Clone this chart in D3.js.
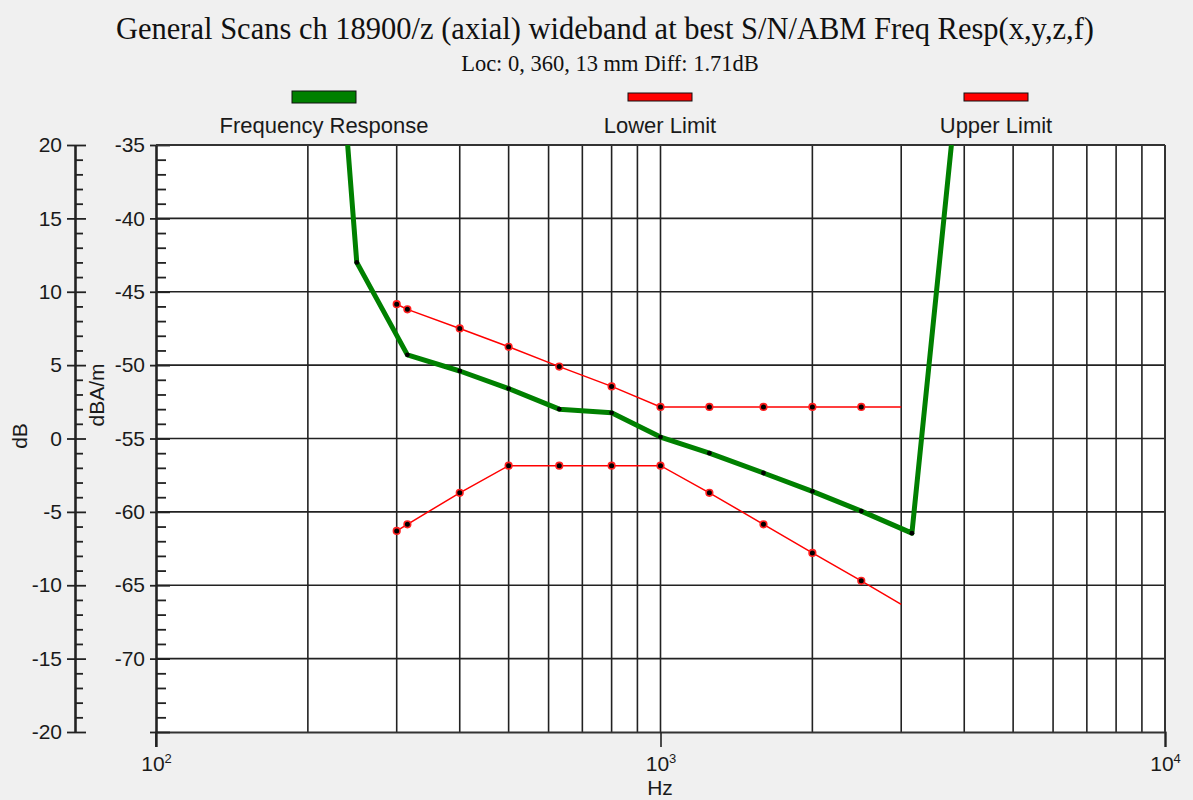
<!DOCTYPE html>
<html>
<head>
<meta charset="utf-8">
<script src="https://cdn.jsdelivr.net/npm/d3@7.9.0/dist/d3.min.js"></script>
<style>
  html, body { margin: 0; padding: 0; background: #f0f0f0; }
  svg { display: block; }
  .tick text { font-family: "Liberation Sans", Arial, sans-serif; font-size: 21px; fill: #1a1a1a; }
</style>
</head>
<body>
<svg id="chart" width="1193" height="800"></svg>
<script>
// frequency points (Hz) and levels (dBA/m)
const respFreq = [200, 250, 315, 400, 500, 630, 800, 1000, 1250, 1600, 2000, 2500, 3150, 4000];
const respVals = [0, -43.0, -49.3, -50.4, -51.6, -53.0, -53.25, -54.9, -56.0, -57.35, -58.6, -59.95, -61.45, -26.4];

const limFreq = [300, 315, 400, 500, 630, 800, 1000, 1250, 1600, 2000, 2500, 3000];
const lowerVals = [-61.3, -60.85, -58.7, -56.85, -56.85, -56.85, -56.85, -58.7, -60.85, -62.8, -64.7, -66.3];
const upperVals = [-45.85, -46.2, -47.5, -48.75, -50.1, -51.45, -52.85, -52.85, -52.85, -52.85, -52.85, -52.85];

const legendNames = ['Frequency Response', 'Lower Limit', 'Upper Limit'];
const dbTicks = [20, 15, 10, 5, 0, -5, -10, -15, -20];
const dbaTicks = [-35, -40, -45, -50, -55, -60, -65, -70, -75];
const decadeTicks = [100, 1000, 10000];

const svg = d3.select('#chart');
const pLeft = 156, pRight = 1165, pTop = 145, pBottom = 732;

const x = d3.scaleLog().domain([100, 10000]).range([pLeft, pRight]);
const y = d3.scaleLinear().domain([-75, -35]).range([pBottom, pTop]);
const yDb = d3.scaleLinear().domain([-20, 20]).range([pBottom, pTop]);

// title
svg.append('text').attr('x', 605).attr('y', 39).attr('text-anchor', 'middle')
  .style('font-family', '"Liberation Serif", "Times New Roman", serif').style('font-size', '30.5px').attr('fill', '#111')
  .text('General Scans ch 18900/z (axial) wideband at best S/N/ABM Freq Resp(x,y,z,f)');
svg.append('text').attr('x', 610).attr('y', 71).attr('text-anchor', 'middle')
  .style('font-family', '"Liberation Serif", "Times New Roman", serif').style('font-size', '22.5px').attr('fill', '#111')
  .text('Loc: 0, 360, 13 mm Diff: 1.71dB');

// legend
const legendX = [324, 660, 996];
legendNames.forEach((name, i) => {
  const h = i === 0 ? 12 : 8;
  svg.append('rect').attr('x', legendX[i] - 32).attr('y', 97 - h / 2).attr('width', 64).attr('height', h)
    .attr('fill', i === 0 ? '#008000' : '#ff0000').attr('stroke', '#111').attr('stroke-width', 1);
  svg.append('text').attr('x', legendX[i]).attr('y', 133).attr('text-anchor', 'middle')
    .style('font-family', '"Liberation Sans", Arial, sans-serif').style('font-size', '22px').attr('fill', '#1a1a1a')
    .text(name);
});

// plot background
svg.append('rect').attr('x', pLeft).attr('y', pTop).attr('width', pRight - pLeft).attr('height', pBottom - pTop).attr('fill', '#fff');

// grid
const gridFreq = [];
[100, 1000].forEach(d => { for (let k = 2; k <= 10; k++) gridFreq.push(d * k); });
svg.append('g').selectAll('line').data(gridFreq).join('line')
  .attr('x1', d => x(d)).attr('x2', d => x(d)).attr('y1', pTop).attr('y2', pBottom)
  .attr('stroke', '#222').attr('stroke-width', 1.6);
svg.append('g').selectAll('line').data(dbaTicks.slice(0, -1)).join('line')
  .attr('x1', pLeft).attr('x2', pRight).attr('y1', d => y(d)).attr('y2', d => y(d))
  .attr('stroke', '#222').attr('stroke-width', 1.6);

// x axis
const xAxis = svg.append('g').attr('transform', `translate(0,${pBottom})`)
  .call(d3.axisBottom(x).tickValues(decadeTicks).tickSize(15).tickPadding(6).tickFormat(() => ''));
xAxis.select('.domain').attr('stroke', '#333').attr('stroke-width', 2.2);
xAxis.selectAll('.tick line').attr('stroke', '#222').attr('stroke-width', 1.6);
xAxis.selectAll('.tick text').each(function (d) {
  const t = d3.select(this).attr('dy', null).attr('y', 39);
  t.append('tspan').text('10');
  t.append('tspan').attr('dy', -8).style('font-size', '13px').text(Math.log10(d));
});
svg.append('text').attr('x', 660).attr('y', 795).attr('text-anchor', 'middle')
  .style('font-family', '"Liberation Sans", Arial, sans-serif').style('font-size', '21px').attr('fill', '#1a1a1a').text('Hz');

// left dB axis
function styleAxis(g) {
  g.selectAll('.domain').attr('stroke', '#222').attr('stroke-width', 1.8);
  g.selectAll('.tick line').attr('stroke', '#222').attr('stroke-width', 1.8);
}
const dbMinor = d3.range(-20, 21).filter(v => v % 5 !== 0);
const gDb = svg.append('g').attr('transform', 'translate(75,0)');
gDb.append('g').call(d3.axisLeft(yDb).tickValues(dbTicks).tickSize(8).tickPadding(5).tickSizeOuter(0)
  .tickFormat(d => String(d))).call(styleAxis);
gDb.append('g').call(d3.axisRight(yDb).tickValues(dbTicks).tickSize(11).tickFormat(() => '').tickSizeOuter(0)).call(styleAxis);
gDb.append('g').call(d3.axisRight(yDb).tickValues(dbMinor).tickSize(8).tickFormat(() => '').tickSizeOuter(0)).call(styleAxis);

// dBA/m axis on the plot edge
const dbaMinor = d3.range(-75, -34).filter(v => v % 5 !== 0);
const gDba = svg.append('g').attr('transform', `translate(${pLeft},0)`);
gDba.append('g').call(d3.axisLeft(y).tickValues(dbaTicks).tickSize(6).tickPadding(5).tickSizeOuter(0)
  .tickFormat(d => d === -75 ? '' : String(d))).call(styleAxis);
gDba.append('g').call(d3.axisRight(y).tickValues(dbaTicks).tickSize(14).tickFormat(() => '').tickSizeOuter(0)).call(styleAxis);
gDba.append('g').call(d3.axisRight(y).tickValues(dbaMinor).tickSize(10).tickFormat(() => '').tickSizeOuter(0)).call(styleAxis);
gDba.append('line').attr('x1', 0).attr('x2', 0).attr('y1', pBottom).attr('y2', pBottom + 15).attr('stroke', '#222').attr('stroke-width', 1.8);

// frame top/right
svg.append('line').attr('x1', pLeft).attr('x2', pRight).attr('y1', pTop).attr('y2', pTop).attr('stroke', '#333').attr('stroke-width', 2);
svg.append('line').attr('x1', pRight).attr('x2', pRight).attr('y1', pTop).attr('y2', pBottom).attr('stroke', '#333').attr('stroke-width', 2);

// axis titles
svg.append('text').attr('transform', 'translate(27,436) rotate(-90)').attr('text-anchor', 'middle')
  .style('font-family', '"Liberation Sans", Arial, sans-serif').style('font-size', '21px').attr('fill', '#1a1a1a').text('dB');
svg.append('text').attr('transform', 'translate(104,395) rotate(-90)').attr('text-anchor', 'middle')
  .style('font-family', '"Liberation Sans", Arial, sans-serif').style('font-size', '21px').attr('fill', '#1a1a1a').text('dBA/m');

// data
svg.append('clipPath').attr('id', 'clip').append('rect')
  .attr('x', pLeft).attr('y', pTop).attr('width', pRight - pLeft).attr('height', pBottom - pTop);
const plot = svg.append('g').attr('clip-path', 'url(#clip)');
const line = d3.line().x(d => x(d[0])).y(d => y(d[1]));

const lower = limFreq.map((f, i) => [f, lowerVals[i]]);
const upper = limFreq.map((f, i) => [f, upperVals[i]]);
const resp = respFreq.map((f, i) => [f, respVals[i]]);

[lower, upper].forEach(s => {
  plot.append('path').datum(s).attr('d', line).attr('fill', 'none').attr('stroke', '#ff0000').attr('stroke-width', 1.5);
  plot.append('g').selectAll('circle').data(s.slice(0, -1)).join('circle')
    .attr('cx', d => x(d[0])).attr('cy', d => y(d[1])).attr('r', 3.3)
    .attr('fill', '#000').attr('stroke', '#ff2020').attr('stroke-width', 1.6);
});

plot.append('path').datum(resp).attr('d', line).attr('fill', 'none').attr('stroke', '#008000')
  .attr('stroke-width', 5).attr('stroke-linejoin', 'round');
plot.append('g').selectAll('circle').data(resp).join('circle')
  .attr('cx', d => x(d[0])).attr('cy', d => y(d[1])).attr('r', 2.4).attr('fill', '#000');
</script>
</body>
</html>
